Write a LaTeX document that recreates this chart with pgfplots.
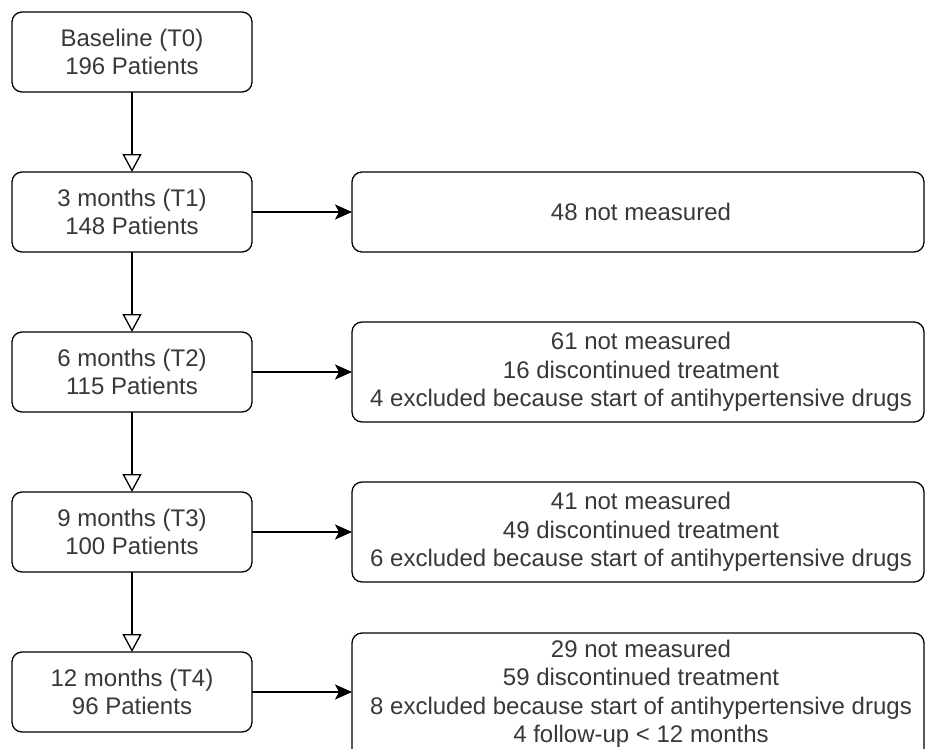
\documentclass[border=0pt]{standalone}
\usepackage{pgfplots}
\pgfplotsset{compat=1.18}
\usepackage{fontspec}
\setmainfont{Liberation Sans}
\usetikzlibrary{arrows.meta}

% box: top, bottom (pixel rows), text
\newcommand{\lbox}[3]{%
  \draw[box] (axis cs:12,#1) rectangle (axis cs:252,#2);
  \node[txt] at (axis cs:132,{(#1+#2)/2}) {#3};}
\newcommand{\rbox}[4]{%
  \draw[box] (axis cs:352,#1) rectangle (axis cs:924,#2);
  \node[txt] at (axis cs:641,#3) {#4};}

\begin{document}
\begin{tikzpicture}[
  box/.style={draw=black, line width=1.3pt, rounded corners=10pt, fill=white},
  txt/.style={align=center, text=black!78, inner sep=0pt,
    font=\fontsize{24}{28.5}\selectfont},
  down/.style={line width=1.3pt, -{Triangle[open, width=19pt, length=18pt]}},
  right/.style={line width=1.3pt, -{Stealth[length=17pt, width=15pt, inset=4pt]}},
]
\begin{axis}[
  width=926pt, height=749pt, scale only axis,
  xmin=0, xmax=926, ymin=0, ymax=749, y dir=reverse,
  axis lines=none, clip=true,
]
% left column
\lbox{12}{92}{Baseline (T0)\\196 Patients}
\lbox{172}{252}{3 months (T1)\\148 Patients}
\lbox{332}{412}{6 months (T2)\\115 Patients}
\lbox{492}{572}{9 months (T3)\\100 Patients}
\lbox{652}{732}{12 months (T4)\\96 Patients}

% right column
\rbox{172}{252}{212}{48 not measured}
\rbox{322}{422}{372}{61 not measured\\16 discontinued treatment\\4 excluded because start of antihypertensive drugs}
\rbox{482}{582}{532}{41 not measured\\49 discontinued treatment\\6 excluded because start of antihypertensive drugs}
\rbox{633}{770}{694}{29 not measured\\59 discontinued treatment\\8 excluded because start of antihypertensive drugs\\4 follow-up < 12 months}

% arrows down
\draw[down] (axis cs:132,92) -- (axis cs:132,172);
\draw[down] (axis cs:132,252) -- (axis cs:132,332);
\draw[down] (axis cs:132,412) -- (axis cs:132,492);
\draw[down] (axis cs:132,572) -- (axis cs:132,652);

% arrows right
\draw[right] (axis cs:252,212) -- (axis cs:352,212);
\draw[right] (axis cs:252,372) -- (axis cs:352,372);
\draw[right] (axis cs:252,532) -- (axis cs:352,532);
\draw[right] (axis cs:252,692) -- (axis cs:352,692);
\end{axis}
\pgfresetboundingbox
\path (0,0) rectangle (926pt,749pt);
\end{tikzpicture}
\end{document}
